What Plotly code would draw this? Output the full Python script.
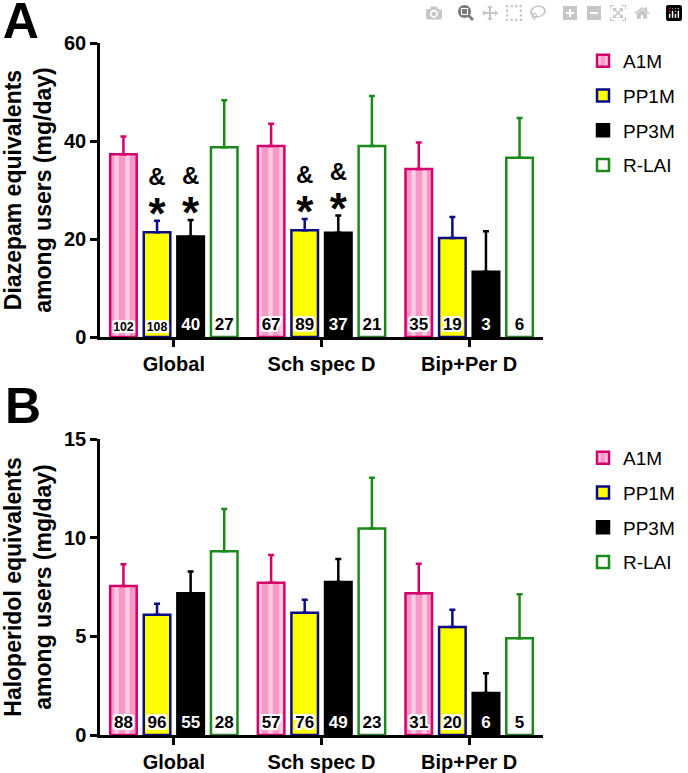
import plotly.graph_objects as go

groups = ["Global", "Sch spec D", "Bip+Per D"]
series = ["A1M", "PP1M", "PP3M", "R-LAI"]

# panel A - diazepam equivalents among users (mg/day), mean and upper error
diaz_a1m = [37.3, 39.0, 34.3]
diaz_pp1m = [21.4, 21.8, 20.2]
diaz_pp3m = [20.5, 21.3, 13.3]
diaz_rlai = [38.7, 39.0, 36.6]
diaz_a1m_err = [3.6, 4.5, 5.4]
diaz_pp1m_err = [2.3, 2.3, 4.3]
diaz_pp3m_err = [3.4, 3.5, 8.3]
diaz_rlai_err = [9.6, 10.2, 8.1]
diaz_n_a1m = [102, 67, 35]
diaz_n_pp1m = [108, 89, 19]
diaz_n_pp3m = [40, 37, 3]
diaz_n_rlai = [27, 21, 6]
# significance marks (& and *) over the bars
diaz_sig_a1m = [False, False, False]
diaz_sig_pp1m = [True, True, False]
diaz_sig_pp3m = [True, True, False]
diaz_sig_rlai = [False, False, False]

# panel B - haloperidol equivalents among users (mg/day)
halo_a1m = [7.55, 7.72, 7.18]
halo_pp1m = [6.10, 6.20, 5.47]
halo_pp3m = [7.18, 7.75, 2.13]
halo_rlai = [9.31, 10.46, 4.90]
halo_a1m_err = [1.10, 1.40, 1.50]
halo_pp1m_err = [0.55, 0.66, 0.88]
halo_pp3m_err = [1.10, 1.17, 1.00]
halo_rlai_err = [2.14, 2.58, 2.23]
halo_n_a1m = [88, 57, 31]
halo_n_pp1m = [96, 76, 20]
halo_n_pp3m = [55, 49, 6]
halo_n_rlai = [28, 23, 5]

FONT = "Arial, Liberation Sans, sans-serif"
WHITE_HALO = ("-2px -2px 0 white, 2px -2px 0 white, -2px 2px 0 white, 2px 2px 0 white,"
              " 0 -2px 0 white, 0 2px 0 white, -2px 0 0 white, 2px 0 0 white")
BLACK_HALO = WHITE_HALO.replace("white", "black")
# & over a big *, with an empty last line so "middle center" sits them just above the cap
SIG_TEXT = ("<b><span style='font-size:24px'>&</span></b><br>"
            "<b><span style='font-size:44px'>*</span></b><br>&nbsp;")

styles = {
    "A1M": dict(fill="#f799c6", line="#d4006c", text="black", halo=WHITE_HALO),
    "PP1M": dict(fill="#ffff00", line="#0b0b8a", text="black", halo=WHITE_HALO),
    "PP3M": dict(fill="#000000", line="#000000", text="white", halo=BLACK_HALO),
    "R-LAI": dict(fill="#ffffff", line="#1b8a1b", text="black", halo=WHITE_HALO),
}

panel_a = [(diaz_a1m, diaz_a1m_err, diaz_n_a1m), (diaz_pp1m, diaz_pp1m_err, diaz_n_pp1m),
           (diaz_pp3m, diaz_pp3m_err, diaz_n_pp3m), (diaz_rlai, diaz_rlai_err, diaz_n_rlai)]
panel_b = [(halo_a1m, halo_a1m_err, halo_n_a1m), (halo_pp1m, halo_pp1m_err, halo_n_pp1m),
           (halo_pp3m, halo_pp3m_err, halo_n_pp3m), (halo_rlai, halo_rlai_err, halo_n_rlai)]
sig_a = [diaz_sig_a1m, diaz_sig_pp1m, diaz_sig_pp3m, diaz_sig_rlai]


def make_bar(name, vals, errs, ns, xa, ya, legend):
    st = styles[name]
    marker = dict(color=st["fill"], line=dict(color=st["line"], width=2.5))
    if name == "A1M":
        marker["pattern"] = dict(shape="|", size=11, solidity=0.4,
                                 fgcolor="white", bgcolor=st["fill"])
    return go.Bar(
        x=groups, y=vals, name=name, xaxis=xa, yaxis=ya, legend=legend,
        offsetgroup=name, legendgroup=name, marker=marker,
        error_y=dict(type="data", array=errs, arrayminus=[0] * len(errs), symmetric=False,
                     color=st["line"], thickness=2.5, width=3),
        text=[str(n) for n in ns], textposition="inside", insidetextanchor="start",
        textangle=0,
        textfont=dict(family=FONT, size=17, weight="bold", color=st["text"], shadow=st["halo"]),
        hoverinfo="skip",
    )


fig = go.Figure()
for name, (vals, errs, ns) in zip(series, panel_a):
    fig.add_trace(make_bar(name, vals, errs, ns, "x", "y", "legend"))
for name, (vals, errs, ns) in zip(series, panel_b):
    fig.add_trace(make_bar(name, vals, errs, ns, "x2", "y2", "legend2"))

# & and * above the error bars in panel A (one text trace per bar group slot)
for name, (vals, errs, ns), marks in zip(series, panel_a, sig_a):
    fig.add_trace(go.Scatter(
        x=groups, y=[v + e for v, e in zip(vals, errs)], mode="text",
        text=[SIG_TEXT if m else "" for m in marks],
        textposition="middle center", offsetgroup=name, xaxis="x", yaxis="y",
        textfont=dict(family=FONT, size=34, color="black"),
        showlegend=False, hoverinfo="skip",
    ))

axis_common = dict(showline=True, linecolor="black", linewidth=2.5, ticks="outside",
                   tickcolor="black", tickwidth=2.5, ticklen=7, showgrid=False,
                   zeroline=False, automargin=False,
                   tickfont=dict(family=FONT, size=20, color="black", weight="bold"))

x_dom = [100 / 688, 543 / 688]
ya_dom = [1 - 337 / 773, 1 - 43 / 773]
yb_dom = [1 - 735 / 773, 1 - 439 / 773]

legend_common = dict(font=dict(family=FONT, size=19, color="black"), bgcolor="rgba(0,0,0,0)",
                     xanchor="left", yanchor="top", tracegroupgap=7, traceorder="grouped",
                     itemclick=False, itemdoubleclick=False)
title_font = dict(family=FONT, size=23, color="black", weight="bold")
letter_font = dict(family=FONT, size=50, color="black", weight="bold")

fig.update_layout(
    width=688, height=773, margin=dict(l=0, r=0, t=0, b=0, autoexpand=False),
    paper_bgcolor="white", plot_bgcolor="white",
    barmode="group", bargap=0.09, bargroupgap=0.21, scattermode="group",
    title=dict(text="A", x=0.004, xanchor="left", y=1, yanchor="top", font=letter_font,
               pad=dict(t=3, l=0)),
    xaxis=dict(domain=x_dom, anchor="y", range=[-0.5, 2.5], **axis_common),
    yaxis=dict(domain=ya_dom, anchor="x", range=[0, 60], dtick=20,
               title=dict(text="Diazepam equivalents<br>among users (mg/day)", standoff=8,
                          font=title_font),
               **axis_common),
    xaxis2=dict(domain=x_dom, anchor="y2", range=[-0.5, 2.5], **axis_common),
    yaxis2=dict(domain=yb_dom, anchor="x2", range=[0, 15], dtick=5,
                title=dict(text="Haloperidol equivalents<br>among users (mg/day)", standoff=8,
                           font=title_font),
                **axis_common),
    legend=dict(x=583 / 688, y=1 - 42 / 773, **legend_common),
    legend2=dict(x=583 / 688, y=1 - 439 / 773, **legend_common),
    annotations=[
        dict(text="B", x=0.004, y=1 - 376 / 773, xref="paper", yref="paper", xanchor="left",
             yanchor="top", showarrow=False, font=letter_font),
    ],
)

fig.write_html("out.html", post_script="document.body.style.margin='0';")
